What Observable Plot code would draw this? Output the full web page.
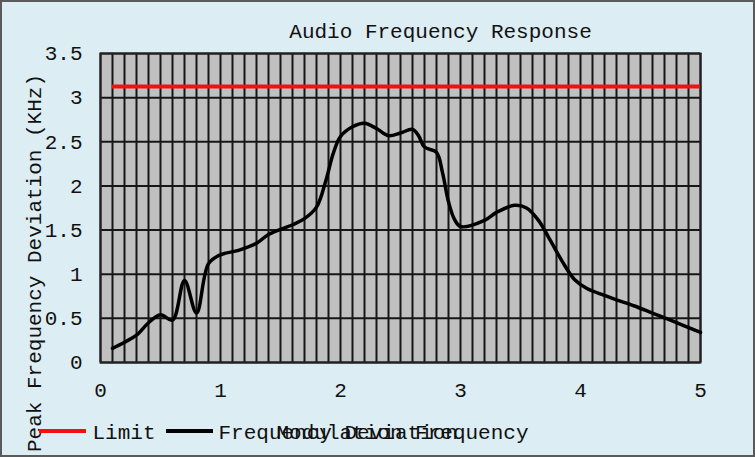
<!DOCTYPE html>
<html>
<head>
<meta charset="utf-8">
<script src="https://cdn.jsdelivr.net/npm/d3@7"></script>
<script src="https://cdn.jsdelivr.net/npm/@observablehq/plot@0.6"></script>
<style>
  html, body { margin: 0; padding: 0; background: #dcedf3; }
  #chart { position: relative; width: 755px; height: 457px; box-sizing: border-box; }
  #chart svg { display: block; }
  #border { position: absolute; left: 0; top: 0; width: 755px; height: 457px; box-sizing: border-box; border: 2px solid #5a5a5a; pointer-events: none; }
</style>
</head>
<body>
<div id="chart"><div id="border"></div></div>
<script>
// ---- data ----
const modFreq = [0.1, 0.2, 0.3, 0.4, 0.5, 0.6, 0.7, 0.8, 0.9, 1.0, 1.15, 1.3, 1.4, 1.6, 1.7, 1.8, 1.88, 1.94, 2.0, 2.1, 2.2, 2.3, 2.4, 2.5, 2.6, 2.65, 2.7, 2.8, 2.85, 2.9, 2.95, 3.0, 3.2, 3.3, 3.45, 3.55, 3.65, 3.75, 3.85, 3.95, 4.05, 4.2, 4.3, 4.45, 4.6, 4.75, 5.0];
const deviation = [0.16, 0.23, 0.31, 0.45, 0.54, 0.48, 0.93, 0.56, 1.12, 1.22, 1.27, 1.35, 1.45, 1.56, 1.63, 1.76, 2.07, 2.37, 2.56, 2.67, 2.71, 2.65, 2.57, 2.60, 2.64, 2.57, 2.44, 2.38, 2.15, 1.82, 1.62, 1.54, 1.61, 1.70, 1.78, 1.75, 1.61, 1.38, 1.14, 0.94, 0.84, 0.76, 0.71, 0.64, 0.56, 0.48, 0.34];
const limitValue = 3.125;
const limitStart = 0.1;
const limitEnd = 5;
const xTicks = [0, 1, 2, 3, 4, 5];
const yTicks = [0, 0.5, 1, 1.5, 2, 2.5, 3, 3.5];
const xGridStep = 0.1;
const xGrid = d3.range(0, 51).map(i => +(i * xGridStep).toFixed(1));
const titleText = "Audio Frequency Response";
const xLabel = "Modulation Frequency";
const yLabel = "Peak Frequency Deviation (KHz)";
const seriesNames = ["Limit", "Frequency Deviation"];

const curveData = modFreq.map((x, i) => ({x, y: deviation[i]}));
const limitData = [{y: limitValue, x1: limitStart, x2: limitEnd}];

const font = "'Liberation Mono', 'DejaVu Sans Mono', monospace";
const fs = 21;

const chart = Plot.plot({
  width: 755,
  height: 457,
  marginLeft: 100,
  marginRight: 55,
  marginTop: 53,
  marginBottom: 95,
  style: {fontFamily: font, fontSize: fs + "px", background: "transparent", color: "#111"},
  x: {domain: [0, 5], label: null},
  y: {domain: [0, 3.5], label: null},
  marks: [
    Plot.frame({fill: "#c0c0c0"}),
    Plot.ruleX(xGrid, {stroke: "#161616", strokeWidth: 2}),
    Plot.ruleY(yTicks, {stroke: "#161616", strokeWidth: 2}),
    Plot.frame({stroke: "#222", strokeWidth: 2}),
    Plot.ruleY(limitData, {y: "y", x1: "x1", x2: "x2", stroke: "#f21010", strokeWidth: 4}),
    Plot.line(curveData, {x: "x", y: "y", curve: "catmull-rom", stroke: "#000", strokeWidth: 3.5}),
    Plot.axisX(xTicks, {tickSize: 0, tickPadding: 20, tickFormat: d => String(d), fontSize: fs, fontFamily: font, label: null}),
    Plot.axisY(yTicks, {tickSize: 0, tickPadding: 18, tickFormat: d => String(d), fontSize: fs, fontFamily: font, label: null}),
    Plot.text([titleText], {frameAnchor: "top", dx: 40, dy: -22, lineAnchor: "middle", fontSize: fs, fontFamily: font, fill: "#111"}),
    Plot.text([xLabel], {frameAnchor: "bottom", dx: 2, dy: 70, lineAnchor: "middle", fontSize: fs, fontFamily: font, fill: "#111"}),
    Plot.text([yLabel], {frameAnchor: "left", dx: -66, dy: 55, rotate: -90, textAnchor: "middle", lineAnchor: "middle", fontSize: fs, fontFamily: font, fill: "#111"}),
    Plot.text([seriesNames[0]], {frameAnchor: "bottom-left", dx: -8, dy: 70, textAnchor: "start", lineAnchor: "middle", fontSize: fs, fontFamily: font, fill: "#111"}),
    Plot.text([seriesNames[1]], {frameAnchor: "bottom-left", dx: 118, dy: 70, textAnchor: "start", lineAnchor: "middle", fontSize: fs, fontFamily: font, fill: "#111"})
  ]
});

// legend swatches
const svg = d3.select(chart);
svg.append("line").attr("x1", 39).attr("x2", 86).attr("y1", 431).attr("y2", 431)
  .attr("stroke", "#f21010").attr("stroke-width", 4);
svg.append("line").attr("x1", 166).attr("x2", 213).attr("y1", 431).attr("y2", 431)
  .attr("stroke", "#000").attr("stroke-width", 4);

document.getElementById("chart").prepend(chart);
</script>
</body>
</html>
